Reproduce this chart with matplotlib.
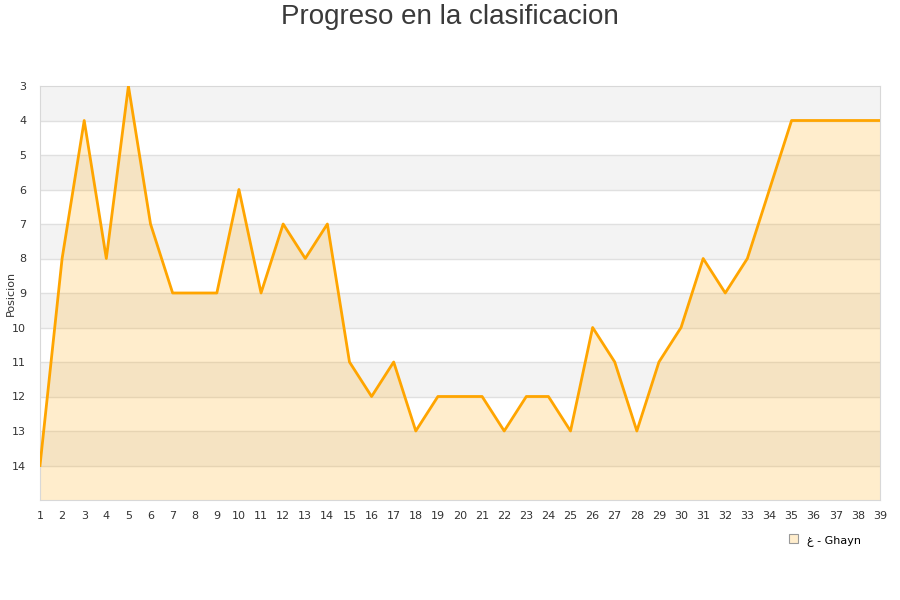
import numpy as np
import matplotlib.pyplot as plt
from matplotlib.patches import Patch

jornadas = list(range(1, 40))
posiciones = [14, 8, 4, 8, 3, 7, 9, 9, 9, 6, 9, 7, 8, 7, 11, 12, 11, 13, 12, 12,
              12, 13, 12, 12, 13, 10, 11, 13, 11, 10, 8, 9, 8, 6, 4, 4, 4, 4, 4]
y_ticks = list(range(3, 15))
equipo = 'غ - Ghayn'

fig = plt.figure(figsize=(9, 6), dpi=100)
ax = fig.add_axes([40/900, 1-500/600, 840/900, 414/600])

# bandas alternas
for k in range(3, 15, 2):
    ax.axhspan(k, k+1, color='#f3f3f3', zorder=0, lw=0)
for k in range(4, 15):
    ax.axhline(k, color='#e0e0e0', lw=1, zorder=1)

ax.fill_between(jornadas, posiciones, 15, color='orange', alpha=0.2, lw=0, zorder=2)
ax.plot(jornadas, posiciones, color='orange', lw=2, zorder=3)

ax.set_xlim(1, 39)
ax.set_ylim(15, 3)
ax.set_xticks(jornadas)
ax.set_yticks(y_ticks)
ax.tick_params(length=0, labelsize=8, labelcolor='#333333')
ax.tick_params(axis='y', pad=10)
ax.tick_params(axis='x', pad=8)
for s in ax.spines.values():
    s.set_color('#d8d8d8')
fig.text(11/900, 1-293/600, 'Posicion', rotation=90, ha='center', va='center',
         fontsize=8, color='#333333')

fig.text(0.5, 1-17/600, 'Progreso en la clasificacion', ha='center', va='center',
         fontsize=20, color='#3a3a3a', family='Liberation Sans')

handle = Patch(facecolor='#ffedcc', edgecolor='#999999', lw=0.8)
fig.legend([handle], [equipo], loc='center', bbox_to_anchor=(825/900, 1-540/600),
           frameon=False, fontsize=8, handlelength=0.8, handleheight=0.8)

fig.savefig('out.png')
